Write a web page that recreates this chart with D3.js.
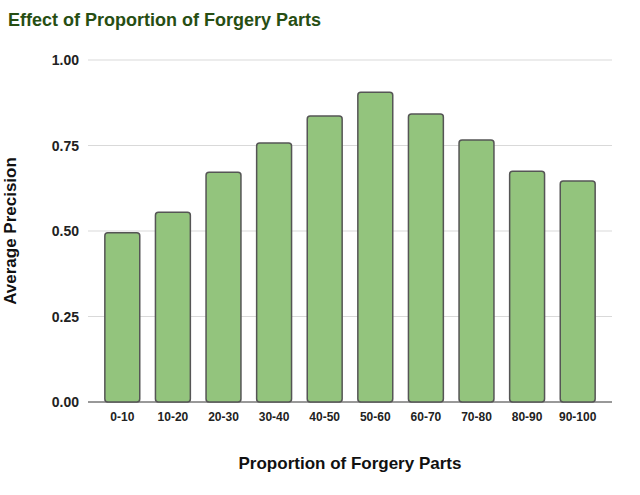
<!DOCTYPE html>
<html><head><meta charset="utf-8">
<script src="https://cdn.jsdelivr.net/npm/d3@7"></script>
<style>body{margin:0;background:#fff}text{font-family:"Liberation Sans",Arial,sans-serif}</style>
</head><body><svg id="c" width="640" height="495"></svg>
<script>
const categories=["0-10","10-20","20-30","30-40","40-50","50-60","60-70","70-80","80-90","90-100"];
const values=[0.495,0.555,0.672,0.757,0.836,0.906,0.842,0.766,0.675,0.646];
const yTicks=[0,0.25,0.5,0.75,1];
const svg=d3.select("#c");
const x=d3.scaleBand().domain(categories).range([97,603]).paddingInner(0.31).paddingOuter(0.155);
const y=d3.scaleLinear().domain([0,1]).range([402,60]);
svg.append("g").selectAll("line").data(yTicks).join("line")
 .attr("x1",88).attr("x2",612).attr("y1",d=>y(d)).attr("y2",d=>y(d))
 .attr("stroke",d=>d===0?"#333":"#d9d9d9").attr("stroke-width",1);
svg.append("g").selectAll("text").data(yTicks).join("text")
 .attr("x",79).attr("y",d=>y(d)+5).attr("text-anchor","end")
 .attr("font-size",14).attr("font-weight","bold").attr("fill","#222").text(d=>d.toFixed(2));
svg.append("g").selectAll("rect").data(values).join("rect")
 .attr("x",(d,i)=>x(categories[i])).attr("width",x.bandwidth())
 .attr("y",d=>y(d)).attr("height",d=>y(0)-y(d)).attr("rx",3)
 .attr("fill","#93c47d").attr("stroke","#555").attr("stroke-width",1.5);
svg.append("g").selectAll("text").data(categories).join("text")
 .attr("x",d=>x(d)+x.bandwidth()/2).attr("y",421).attr("text-anchor","middle")
 .attr("font-size",12).attr("font-weight","bold").attr("fill","#222").text(d=>d);
svg.append("text").attr("x",8).attr("y",26).attr("font-size",18).attr("font-weight","bold").attr("fill","#274e13").text("Effect of Proportion of Forgery Parts");
svg.append("text").attr("x",350).attr("y",469).attr("text-anchor","middle").attr("font-size",17).attr("font-weight","bold").attr("fill","#111").text("Proportion of Forgery Parts");
svg.append("text").attr("transform","translate(16,231) rotate(-90)").attr("text-anchor","middle").attr("font-size",17).attr("font-weight","bold").attr("fill","#111").text("Average Precision");
</script></body></html>
